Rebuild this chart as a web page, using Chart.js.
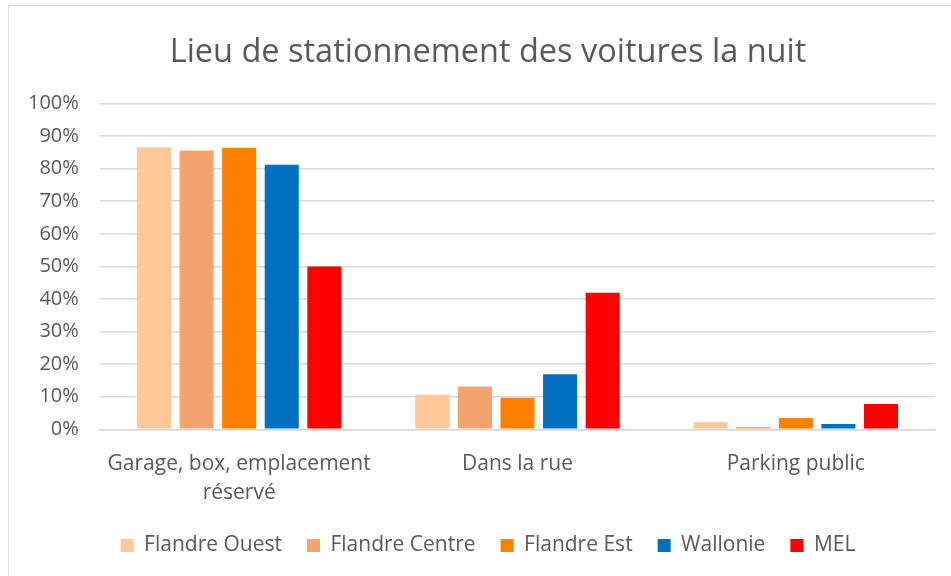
<!DOCTYPE html>
<html><head><meta charset="utf-8">
<script src="https://cdn.jsdelivr.net/npm/chart.js@4/dist/chart.umd.min.js"></script>
<style>
html,body{margin:0;padding:0;background:#fff;overflow:hidden;}
#wrap{position:absolute;left:0;top:0;width:951px;height:576px;}
#frame{position:absolute;left:8px;top:5px;width:960px;height:600px;border:1px solid #d9d9d9;box-sizing:border-box;pointer-events:none;}
</style></head>
<body>
<div id="wrap"><canvas id="c" width="951" height="576"></canvas></div>
<div id="frame"></div>
<script>
const categories = [["Garage, box, emplacement","réservé"], "Dans la rue", "Parking public"];
const seriesNames = ["Flandre Ouest","Flandre Centre","Flandre Est","Wallonie","MEL"];
const flandreOuest = [86.6, 10.6, 2.2];
const flandreCentre = [85.6, 13.1, 0.7];
const flandreEst = [86.4, 9.7, 3.5];
const wallonie = [81.2, 16.9, 1.6];
const mel = [50.0, 41.9, 7.8];
const colors = ["#ffc896","#f2a36e","#ff8000","#0070c0","#ff0000"];
const values = [flandreOuest, flandreCentre, flandreEst, wallonie, mel];

const font = "'Open Sans', 'Noto Sans', sans-serif";
new Chart(document.getElementById('c'), {
  type: 'bar',
  data: {
    labels: categories,
    datasets: seriesNames.map((n,i)=>({
      label: n, data: values[i], backgroundColor: colors[i],
      borderWidth: 0, categoryPercentage: 0.765, barPercentage: 0.8
    }))
  },
  options: {
    responsive: false, animation: false,
    layout: {padding: {left: 41, right: 16, top: 33, bottom: 10}},
    plugins: {
      title: {display: true, text: 'Lieu de stationnement des voitures la nuit',
        color: '#595959', font: {family: font, size: 32.5, weight: 'normal', lineHeight: 1.2}, padding: {top: 0.5, bottom: 31}},
      legend: {position: 'bottom', labels: {color: '#595959', font: {family: font, size: 21},
        boxWidth: 13, boxHeight: 13, padding: 25, useBorderRadius: false}},
      tooltip: {enabled: false}
    },
    scales: {
      y: {min: 0, max: 100, ticks: {stepSize: 10, color: '#595959', mirror: true, crossAlign: 'far', padding: -72,
            font: {family: font, size: 20}, callback: v => v + '%'},
          grid: {color: '#d9d9d9', lineWidth: 1.5, drawTicks: false}, border: {display: false},
          afterFit: s => { s.width = 59; }},
      x: {ticks: {color: '#595959', padding: 12, maxRotation: 0, font: {family: font, size: 21, lineHeight: 1.4}},
          grid: {display: false}, border: {color: '#d9d9d9', width: 1.5},
          afterFit: s => { s.height = 80.7; }}
    }
  }
});
</script>
</body></html>
